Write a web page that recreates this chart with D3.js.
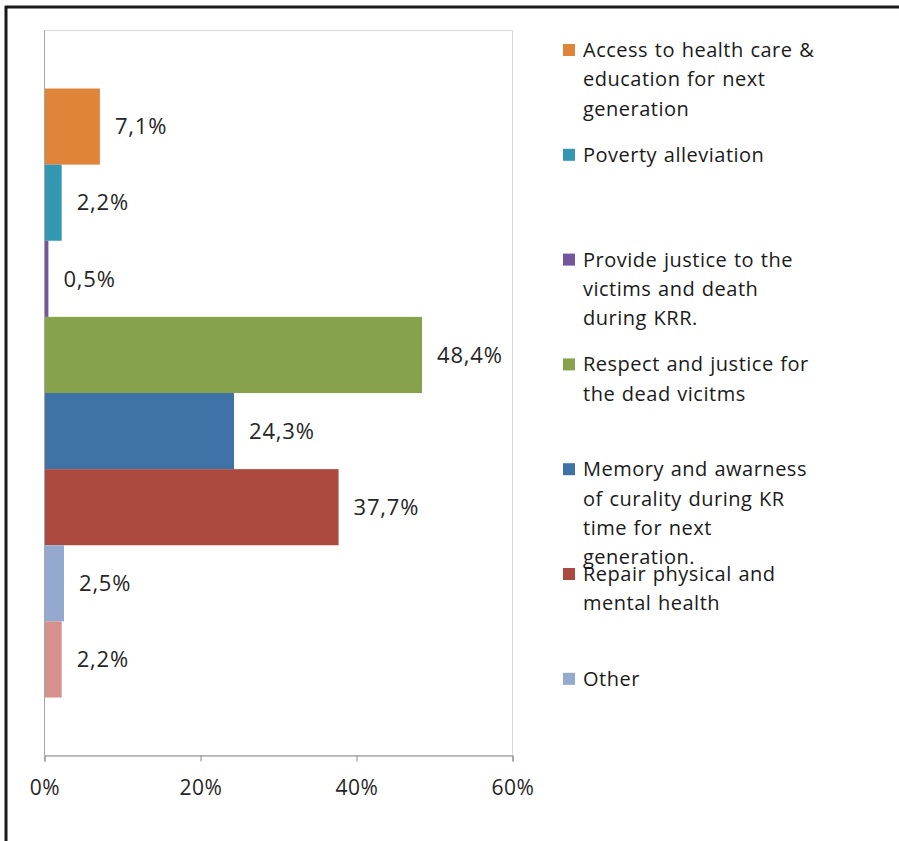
<!DOCTYPE html>
<html><head><meta charset="utf-8">
<script src="https://cdn.jsdelivr.net/npm/d3@7"></script>
<style>body{margin:0;background:#fff}svg{display:block}text{font-family:"Open Sans",sans-serif}</style>
</head><body><svg id="c" width="899" height="841"></svg>
<script>
const series = ["Access to health care & education for next generation","Poverty alleviation","Provide justice to the victims and death during KRR.","Respect and justice for the dead vicitms","Memory and awarness of curality during KR time for next generation.","Repair physical and mental health","Other","(unnamed)"];
const values = [7.1, 2.2, 0.5, 48.4, 24.3, 37.7, 2.5, 2.2];
const valueLabels = ["7,1%","2,2%","0,5%","48,4%","24,3%","37,7%","2,5%","2,2%"];
const colors = ["#E0843A","#3397B2","#73579E","#86A24A","#3F72A6","#AD4A3F","#93A9CF","#D7918D"];
const ticks = [0, 20, 40, 60];
const tickLabels = ["0%","20%","40%","60%"];
const legendLines = [
  ["Access to health care &","education for next","generation"],
  ["Poverty alleviation"],
  ["Provide justice to the","victims and death","during KRR."],
  ["Respect and justice for","the dead vicitms"],
  ["Memory and awarness","of curality during KR","time for next","generation."],
  ["Repair physical and","mental health"],
  ["Other"]
];

const svg = d3.select("#c");
// frame
svg.append("line").attr("x1",6).attr("x2",6).attr("y1",6).attr("y2",841).attr("stroke","#1a1a1a").attr("stroke-width",3);
svg.append("line").attr("x1",5).attr("x2",899).attr("y1",7).attr("y2",7).attr("stroke","#1a1a1a").attr("stroke-width",3);

const L=44.5, R=512.5, T=30.5, B=755.5;
const x = d3.scaleLinear().domain([0,60]).range([L,R]);
const y = d3.scaleBand().domain(d3.range(values.length)).range([T,B]).paddingInner(0).paddingOuter(0.762);

// plot area border
svg.append("rect").attr("x",L).attr("y",T).attr("width",R-L).attr("height",B-T).attr("fill","none").attr("stroke","#d9d9d9");

svg.selectAll("rect.bar").data(values).join("rect").attr("class","bar")
  .attr("x",x(0)).attr("y",(d,i)=>y(i)).attr("width",d=>x(d)-x(0)).attr("height",y.bandwidth())
  .attr("fill",(d,i)=>colors[i]);

// left axis line
svg.append("line").attr("x1",L).attr("x2",L).attr("y1",T).attr("y2",B).attr("stroke","#a6a6a6");

const ax = svg.append("g").attr("transform",`translate(0,${B})`).call(d3.axisBottom(x).tickValues(ticks).tickFormat((d,i)=>tickLabels[i]).tickSize(6).tickPadding(19));
ax.select(".domain").attr("stroke","#8c8c8c");
ax.selectAll(".tick line").attr("stroke","#8c8c8c");
ax.selectAll("text").attr("font-size",21).attr("letter-spacing",0.6).attr("fill","#262626").attr("font-family","'Open Sans',sans-serif");

svg.selectAll("text.lbl").data(values).join("text").attr("class","lbl")
  .attr("x",d=>x(d)+15).attr("y",(d,i)=>y(i)+y.bandwidth()/2).attr("dy","0.35em")
  .attr("font-size",22).attr("letter-spacing",0.8).attr("fill","#262626").text((d,i)=>valueLabels[i]);

const lg = svg.append("g");
legendLines.forEach((lines,i)=>{
  const cy = 50 + i*104.8;
  lg.append("rect").attr("x",563).attr("y",cy-6).attr("width",12).attr("height",12).attr("fill",colors[i]);
  lines.forEach((t,j)=>{
    lg.append("text").attr("x",583).attr("y",cy + j*29.3).attr("dy","0.35em").attr("font-size",20)
      .attr("letter-spacing",0.5).attr("word-spacing",1).attr("fill","#1a1a1a").text(t);
  });
});
</script></body></html>
